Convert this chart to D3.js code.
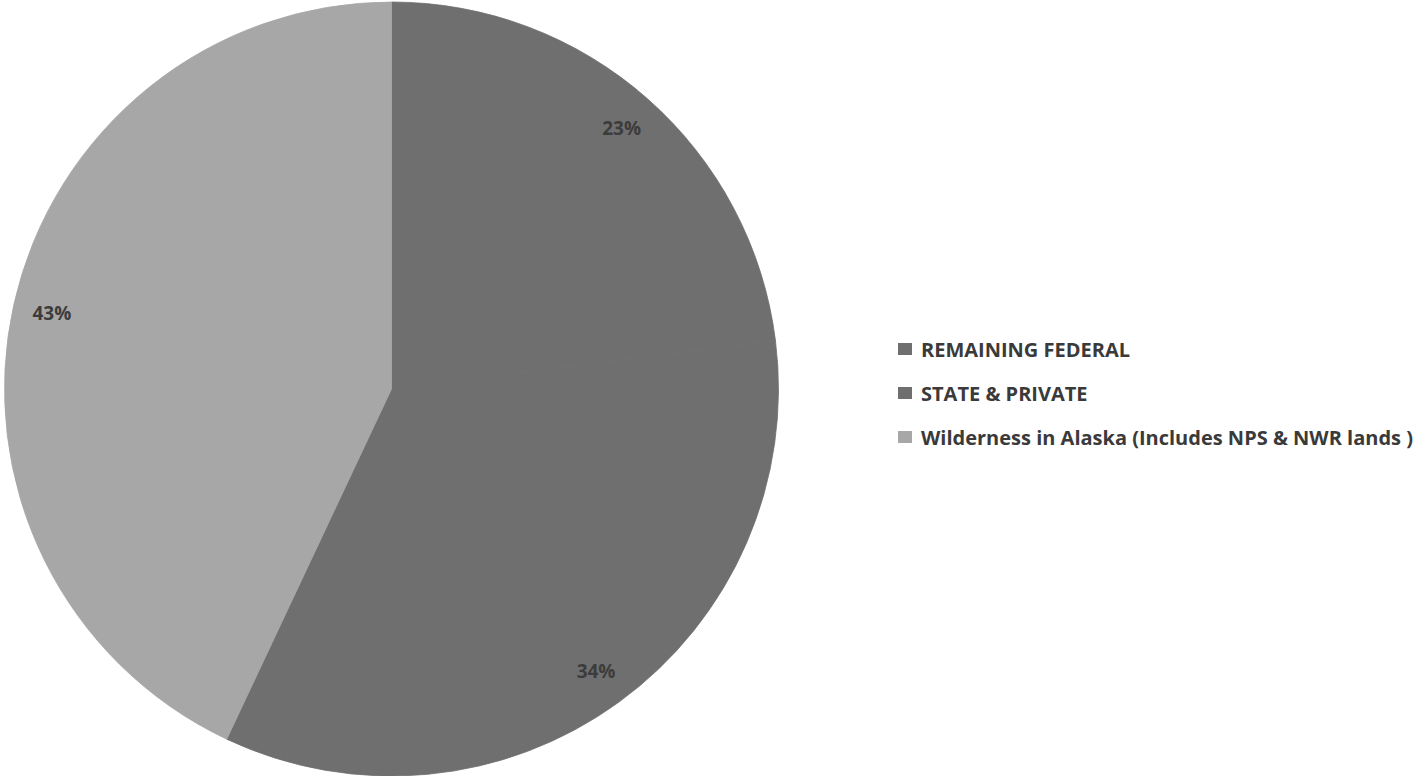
<!DOCTYPE html>
<html><head><meta charset="utf-8">
<script src="https://cdn.jsdelivr.net/npm/d3@7"></script>
<style>body{margin:0;background:#fff}svg{display:block}</style>
</head><body>
<svg id="c" width="1418" height="776"></svg>
<script>
const categories = ["REMAINING FEDERAL", "STATE & PRIVATE", "Wilderness in Alaska (Includes NPS & NWR lands )"];
const values = [23, 34, 43];
const labels = ["23%", "34%", "43%"];
const colors = ["#6f6f6f", "#6f6f6f", "#a7a7a7"];

const svg = d3.select("#c");
const cx = 391.5, cy = 389, R = 387;
const labelR = 348;
const pie = d3.pie().sort(null).value(d => d)(values);
const arc = d3.arc().innerRadius(0).outerRadius(R);
const g = svg.append("g").attr("transform", `translate(${cx},${cy})`);
g.selectAll("path").data(pie).join("path")
  .attr("d", arc).attr("fill", (d, i) => colors[i])
  .attr("stroke", (d, i) => colors[i]).attr("stroke-width", 0.8);
g.selectAll("text").data(pie).join("text")
  .attr("transform", d => {
    const a = (d.startAngle + d.endAngle) / 2;
    return `translate(${Math.sin(a) * labelR},${-Math.cos(a) * labelR})`;
  })
  .attr("text-anchor", "middle").attr("dominant-baseline", "central")
  .attr("font-family", "'Open Sans', sans-serif").attr("font-weight", "bold")
  .attr("font-size", 19).attr("fill", "#3c3c3c")
  .text((d, i) => labels[i]);

const leg = svg.append("g").attr("transform", "translate(898,349)");
const items = leg.selectAll("g").data(categories).join("g")
  .attr("transform", (d, i) => `translate(0,${i * 44})`);
items.append("rect").attr("x", 0).attr("y", -6).attr("width", 14).attr("height", 12)
  .attr("fill", (d, i) => colors[i]);
items.append("text").attr("x", 23).attr("y", 0).attr("dominant-baseline", "central")
  .attr("font-family", "'Open Sans', sans-serif").attr("font-weight", "bold")
  .attr("font-size", 20).attr("fill", "#3a3a3a").text(d => d);
</script>
</body></html>
